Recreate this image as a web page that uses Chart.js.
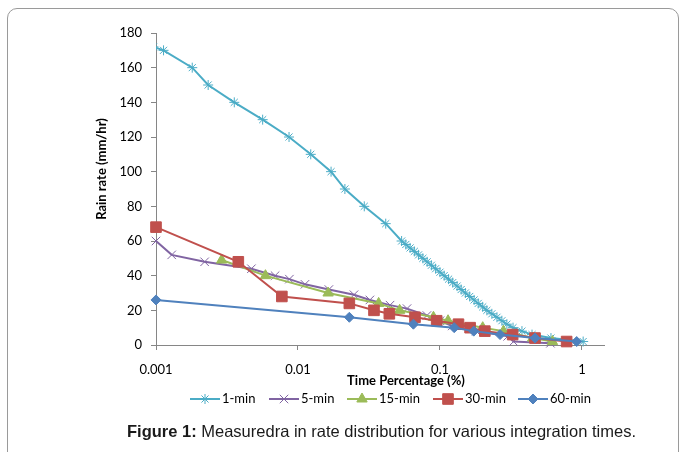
<!DOCTYPE html>
<html><head><meta charset="utf-8">
<script src="https://cdn.jsdelivr.net/npm/chart.js@4.4.1/dist/chart.umd.min.js"></script>
<style>
html,body{margin:0;padding:0;background:#fff;overflow:hidden;}
#wrap{position:relative;width:683px;height:452px;overflow:hidden;}
#frame{position:absolute;left:7px;top:8px;width:672px;height:480px;border:1px solid #9a9a9a;border-radius:10px;box-sizing:border-box;}
canvas{position:absolute;left:0;top:0;}
#cap{position:absolute;left:40px;width:683px;top:422px;text-align:center;font-family:'Liberation Sans',Arial,sans-serif;font-size:16.5px;color:#1a1a1a;white-space:nowrap;}
</style></head>
<body><div id="wrap"><div id="frame"></div><canvas id="c" width="683" height="452"></canvas>
<div id="cap"><b>Figure 1:</b> Measuredra in rate distribution for various integration times.</div></div>
<script>
const xTickValues = [0.001, 0.01, 0.1, 1];
const seriesNames = ['1-min', '5-min', '15-min', '30-min', '60-min'];
const xTitle = 'Time Percentage (%)';
const yTitle = 'Rain rate (mm/hr)';

const min1Pct  = [0.00096,0.00113,0.0018,0.00233,0.00356,0.00564,0.00865,0.0123,0.0171,0.0214,0.0293,0.0415,0.0537,0.0575,0.0616,0.066,0.0707,0.0758,0.0812,0.087,0.0932,0.1,0.107,0.115,0.123,0.132,0.141,0.151,0.162,0.174,0.186,0.2,0.214,0.232,0.252,0.273,0.296,0.327,0.378,0.445,0.605,1.02];
const min1Rate = [172,170,160,150,140,130,120,110,100,90,80,70,60,58,56,54,52,50,48,46,44,42,40,38,36,34,32,30,28,26,24,22,20,18,16,14,12,10,8,6,4,2];

const min5Pct  = [0.001,0.00129,0.0022,0.0047,0.0069,0.0087,0.0112,0.0165,0.0248,0.0321,0.0445,0.0586,0.0809,0.1,0.122,0.18,0.3,0.33,0.6];
const min5Rate = [60,52,48,44,40,38,35,32,29,26,23,21,17,14,11,8,5,2,1];

const min15Pct  = [0.0029,0.0059,0.0163,0.037,0.052,0.09,0.114,0.2,0.28,0.45,0.62];
const min15Rate = [49,40,30,24,20,16,14,10,8,4,2];

const min30Pct  = [0.001,0.0038,0.0077,0.023,0.0343,0.044,0.0667,0.0948,0.135,0.163,0.207,0.325,0.467,0.78];
const min30Rate = [68,48,28,24,20,18,16,14,12,10,8,6,4,2];

const min60Pct  = [0.001,0.023,0.065,0.126,0.173,0.265,0.467,0.918];
const min60Rate = [26,16,12,10,8,6,4,2];

function pts(xs, ys) { return xs.map((x, i) => ({ x: x, y: ys[i] })); }

const styles = [
  { color: '#4BACC6', pointStyle: 'star', radius: 5, bw: 1, order: 5, clip: {left: 0, top: false, right: false, bottom: false} },
  { color: '#8064A2', pointStyle: 'crossRot', radius: 6, bw: 1, order: 4, clip: false },
  { color: '#9BBB59', pointStyle: 'triangle', radius: 6, bw: 1, order: 3, clip: false },
  { color: '#C0504D', pointStyle: 'rect', radius: 7.5, bw: 1, order: 2, clip: false },
  { color: '#4F81BD', pointStyle: 'rectRot', radius: 5, bw: 1, order: 1, clip: false }
];
const allData = [pts(min1Pct, min1Rate), pts(min5Pct, min5Rate), pts(min15Pct, min15Rate), pts(min30Pct, min30Rate), pts(min60Pct, min60Rate)];

const datasets = allData.map((d, i) => ({
  label: seriesNames[i],
  data: d,
  showLine: true,
  borderColor: styles[i].color,
  backgroundColor: styles[i].color,
  borderWidth: 2,
  pointStyle: styles[i].pointStyle,
  pointRadius: styles[i].radius,
  pointBorderWidth: styles[i].bw,
  pointBorderColor: styles[i].color,
  pointBackgroundColor: styles[i].color,
  order: styles[i].order,
  clip: styles[i].clip,
  tension: 0
}));

const FONT = 'Lato';
const overlay = {
  id: 'overlay',
  afterDraw(chart) {
    const ctx = chart.ctx;
    ctx.save();
    ctx.fillStyle = '#000';
    ctx.font = 'bold 13px ' + FONT;
    ctx.textAlign = 'center';
    ctx.textBaseline = 'middle';
    ctx.fillText(xTitle, 406, 381);
    ctx.save();
    ctx.translate(102, 169);
    ctx.rotate(-Math.PI / 2);
    ctx.fillText(yTitle, 0, 0);
    ctx.restore();
    const starts = [190, 269, 347, 433, 518];
    const ly = 399;
    ctx.font = '13px ' + FONT;
    ctx.textAlign = 'left';
    seriesNames.forEach((n, i) => {
      const s = styles[i];
      ctx.strokeStyle = s.color;
      ctx.lineWidth = 2;
      ctx.beginPath();
      ctx.moveTo(starts[i], ly);
      ctx.lineTo(starts[i] + 30, ly);
      ctx.stroke();
      ctx.fillStyle = s.color;
      ctx.lineWidth = s.bw;
      Chart.helpers.drawPoint(ctx, { pointStyle: s.pointStyle, radius: s.radius, borderWidth: s.bw, rotation: 0 }, starts[i] + 15, ly);
      ctx.fillStyle = '#000';
      ctx.fillText(n, starts[i] + 32, ly);
    });
    ctx.restore();
  }
};

new Chart(document.getElementById('c'), {
  type: 'scatter',
  data: { datasets: datasets },
  options: {
    responsive: false,
    animation: false,
    layout: { padding: { left: 0, right: 79, top: 33, bottom: 67 } },
    plugins: { legend: { display: false }, tooltip: { enabled: false } },
    scales: {
      x: {
        type: 'logarithmic',
        min: 0.001, max: 1.43,
        afterBuildTicks: s => { s.ticks = xTickValues.map(v => ({ value: v, major: true })); },
        afterFit: s => { s.height = 40; },
        ticks: { callback: v => String(v), font: { family: FONT, size: 13 }, color: '#000', padding: 12, maxRotation: 0, autoSkip: false },
        grid: { drawOnChartArea: false, drawTicks: true, tickLength: 5, color: '#868686' },
        border: { color: '#868686', width: 1 }
      },
      y: {
        min: 0, max: 180,
        afterFit: s => { s.width = 156; },
        ticks: { stepSize: 20, font: { family: FONT, size: 13 }, color: '#000', padding: 9 },
        grid: { drawOnChartArea: false, drawTicks: true, tickLength: 5, color: '#868686' },
        border: { color: '#868686', width: 1 }
      }
    }
  },
  plugins: [overlay]
});
</script></body></html>
